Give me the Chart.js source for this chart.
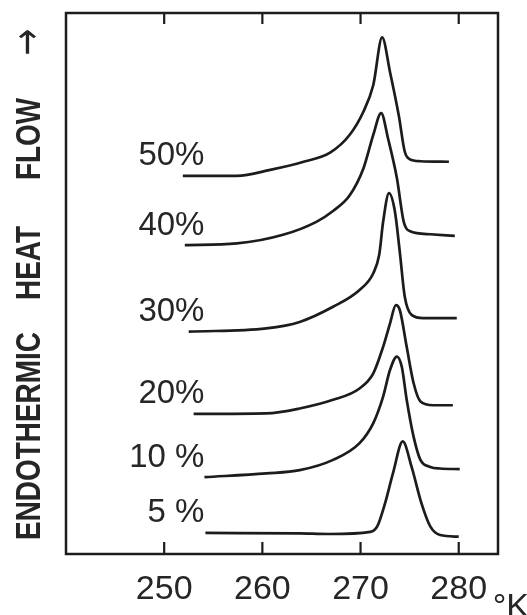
<!DOCTYPE html>
<html>
<head>
<meta charset="utf-8">
<script src="https://cdn.jsdelivr.net/npm/chart.js@4.4.1/dist/chart.umd.min.js"></script>
<style>
    html,body{ margin:0; padding:0; background:#fff; }
    canvas{ display:block; }
</style>
</head>
<body>
<canvas id="dscChart" width="527" height="615"></canvas>
<script>

// ======================================
// DSC curves
// ======================================

const curveLabels = ["50%", "40%", "30%", "20%", "10 %", "5 %"];

const xTicks = [250, 260, 270, 280];

const temp50 = [251.9, 257.4, 260.8, 264.2, 266.9, 268.9, 270.3, 271.3, 272.2, 273.0, 273.9, 274.5, 275.0, 276.1, 279.0];
const flow50 = [69.9, 69.9, 71.0, 72.5, 74.2, 77.5, 81.8, 86.7, 95.5, 89.1, 81.0, 74.4, 73.0, 72.6, 72.5];

const temp40 = [252.1, 257.4, 262.1, 265.5, 267.2, 268.9, 270.3, 271.3, 272.1, 272.8, 273.7, 274.4, 275.0, 277.1, 279.6];
const flow40 = [57.1, 57.4, 59.0, 61.4, 63.4, 66.3, 71.3, 77.5, 81.5, 76.8, 69.5, 61.4, 59.7, 59.1, 58.8];

const temp30 = [252.5, 260.4, 263.8, 267.2, 269.9, 271.3, 271.9, 272.3, 272.9, 273.5, 274.0, 274.5, 275.2, 276.4, 279.8];
const flow30 = [41.1, 41.7, 42.9, 45.7, 48.8, 51.9, 55.3, 61.4, 66.7, 63.3, 55.8, 47.6, 44.2, 43.6, 43.6];

const temp20 = [253.0, 260.4, 263.8, 267.2, 269.9, 271.3, 272.3, 273.0, 273.6, 274.0, 274.7, 275.4, 276.1, 277.4, 279.4];
const flow20 = [25.9, 26.0, 26.9, 28.5, 30.6, 33.4, 38.3, 42.6, 46.0, 45.1, 38.3, 31.6, 28.2, 27.5, 27.5];

const temp10 = [254.1, 260.4, 263.8, 267.2, 269.9, 271.3, 272.3, 273.0, 273.7, 274.2, 274.7, 275.4, 276.1, 277.1, 278.1, 280.1];
const flow10 = [14.2, 14.9, 15.5, 17.4, 20.5, 24.2, 29.1, 34.0, 36.5, 34.6, 28.5, 21.7, 17.4, 16.1, 15.8, 15.7];

const temp5 = [254.2, 263.8, 266.9, 271.0, 271.7, 272.5, 273.3, 274.3, 275.2, 276.2, 277.1, 278.1, 280.0];
const flow5 = [3.9, 3.8, 3.7, 4.1, 5.1, 9.4, 14.9, 20.8, 16.1, 9.4, 5.1, 3.5, 3.2];

const temps = [temp50, temp40, temp30, temp20, temp10, temp5];
const flows = [flow50, flow40, flow30, flow20, flow10, flow5];

const INK = "#1c1c1c";
const FONT = "'Liberation Sans', Arial, sans-serif";

// ======================================
// Helpers
// ======================================

function toPoints(xs, ys){

    return xs.map((x, i) => ({ x:x, y:ys[i] }));

}

function buildDatasets(){

    return curveLabels.map((label, i) => ({

        label:label,

        data:toPoints(temps[i], flows[i]),

        borderColor:INK,

        borderWidth:2.7,

        pointRadius:0,

        fill:false,

        cubicInterpolationMode:"monotone"

    }));

}

// ======================================
// Frame, inward ticks and hand lettering
// ======================================

const framePlugin = {

    id:"frame",

    afterDraw(chart){

        const ctx = chart.ctx;
        const area = chart.chartArea;
        const xs = chart.scales.x;
        const ys = chart.scales.y;

        ctx.save();

        // box
        ctx.strokeStyle = INK;
        ctx.lineWidth = 2.5;
        ctx.strokeRect(area.left, area.top, area.right - area.left, area.bottom - area.top);

        // ticks pointing in
        ctx.lineWidth = 2.2;
        xTicks.forEach(v => {
            const px = xs.getPixelForValue(v);
            ctx.beginPath();
            ctx.moveTo(px, area.bottom);
            ctx.lineTo(px, area.bottom - 12);
            ctx.moveTo(px, area.top);
            ctx.lineTo(px, area.top + 11);
            ctx.stroke();
        });

        // curve labels, right aligned just before each trace
        ctx.fillStyle = "#262626";
        ctx.font = "33px " + FONT;
        ctx.textAlign = "right";
        ctx.textBaseline = "alphabetic";
        const labelX = xs.getPixelForValue(254.1);
        curveLabels.forEach((label, i) => {
            const startY = ys.getPixelForValue(flows[i][0]);
            ctx.fillText(label, labelX, startY - 10.5);
        });

        // degree K after the last tick
        ctx.textAlign = "left";
        ctx.font = "34px " + FONT;
        ctx.fillText("\u00B0K", xs.getPixelForValue(280) + 34, 617);

        // vertical axis title
        ctx.textAlign = "center";
        const words = [
            ["ENDOTHERMIC", 436, 208, "bold 35px " + FONT],
            ["HEAT", 263, 74, "bold 35px " + FONT],
            ["FLOW", 139, 82, "bold 35px " + FONT],
            ["\u2192", 42, 27, "40px 'DejaVu Sans', sans-serif"]
        ];
        words.forEach(w => {
            ctx.save();
            ctx.font = w[3];
            ctx.translate(40, w[1]);
            ctx.rotate(-Math.PI / 2);
            ctx.fillText(w[0], 0, 0, w[2]);
            ctx.restore();
        });

        ctx.restore();

    }

};

// ======================================
// Create Chart
// ======================================

function createChart(){

    const ctx = document.getElementById("dscChart");

    return new Chart(ctx, {

        type:"line",

        data:{ datasets:buildDatasets() },

        options:{

            responsive:false,

            animation:false,

            layout:{
                padding:{ left:66, top:13, right:29, bottom:0 }
            },

            scales:{

                x:{
                    type:"linear",
                    min:240,
                    max:284,
                    grid:{ display:false },
                    border:{ display:false },
                    afterBuildTicks:axis => {
                        axis.ticks = xTicks.map(v => ({ value:v }));
                    },
                    afterFit:axis => {
                        axis.height = 61;
                    },
                    ticks:{
                        color:"#262626",
                        padding:7,
                        maxRotation:0,
                        font:{ family:FONT, size:34 }
                    }
                },

                y:{
                    type:"linear",
                    min:0,
                    max:100,
                    display:false
                }

            },

            plugins:{
                legend:{ display:false },
                tooltip:{ enabled:false }
            }

        },

        plugins:[framePlugin]

    });

}

createChart();

</script>
</body>
</html>
